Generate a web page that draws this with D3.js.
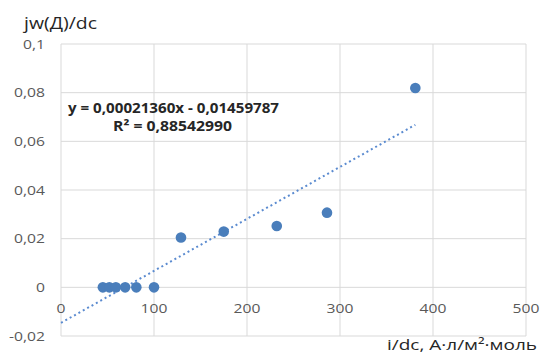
<!DOCTYPE html>
<html><head><meta charset="utf-8">
<script src="https://cdn.jsdelivr.net/npm/d3@7"></script>
<style>body{margin:0;background:#fff}svg{display:block}</style>
</head><body>
<script>
const xValues = [45, 52, 59, 69, 81, 100, 129, 175, 232, 286, 381];
const yValues = [0, 0, 0, 0, 0, 0, 0.0205, 0.0229, 0.0252, 0.0307, 0.0819];
const xTicks = [0, 100, 200, 300, 400, 500];
const yTicks = [-0.02, 0, 0.02, 0.04, 0.06, 0.08, 0.1];
const yTickLabels = ["-0,02", "0", "0,02", "0,04", "0,06", "0,08", "0,1"];
const slope = 0.00021360, intercept = -0.01459787;
const eqText = "y = 0,00021360x - 0,01459787";
const r2Text = "R² = 0,88542990";
const yTitle = "jw(Д)/dc";
const xTitle = "i/dc, А·л/м²·моль";

const W = 540, H = 354;
const svg = d3.select("body").append("svg").attr("width", W).attr("height", H);
const x = d3.scaleLinear().domain([0, 500]).range([61, 526]);
const y = d3.scaleLinear().domain([-0.02, 0.1]).range([336, 44]);
const font = "'Open Sans', 'Liberation Sans', sans-serif";
const grid = "#d9d9d9";

function label(g, px, py, str, size, anchor, sx, opts = {}) {
  const t = g.append("text")
    .attr("transform", `translate(${px},${py}) scale(${sx},1)`)
    .attr("text-anchor", anchor).attr("font-family", font).attr("font-size", size)
    .attr("font-weight", opts.weight || "normal")
    .attr("dy", opts.dy || null)
    .attr("fill", opts.fill || "#595959").text(str);
  if (opts.len) t.attr("textLength", opts.len).attr("lengthAdjust", "spacingAndGlyphs");
  return t;
}

// grid
svg.append("g").selectAll("line").data(yTicks).join("line")
  .attr("x1", x(0)).attr("x2", x(500)).attr("y1", d => y(d)).attr("y2", d => y(d))
  .attr("stroke", grid).attr("stroke-width", 1);
svg.append("g").selectAll("line").data(xTicks).join("line")
  .attr("x1", d => x(d)).attr("x2", d => x(d)).attr("y1", y(0.1)).attr("y2", y(-0.02))
  .attr("stroke", grid).attr("stroke-width", 1);

// tick labels
const gy = svg.append("g");
yTicks.forEach((d, i) => label(gy, 45, y(d), yTickLabels[i], 13.5, "end", 1.16, {dy: "0.35em"}));
const gx = svg.append("g");
xTicks.forEach(d => label(gx, x(d), y(0) + 26, String(d), 13.5, "middle", 1.16));

// trendline
const xMax = d3.max(xValues);
svg.append("line")
  .attr("x1", x(0)).attr("y1", y(intercept))
  .attr("x2", x(xMax)).attr("y2", y(slope * xMax + intercept))
  .attr("stroke", "#5b8bd0").attr("stroke-width", 2)
  .attr("stroke-dasharray", "2,3");

// points
svg.append("g").selectAll("circle").data(xValues).join("circle")
  .attr("cx", d => x(d)).attr("cy", (d, i) => y(yValues[i])).attr("r", 5.3)
  .attr("fill", "#4a7ebb");

// equation
const ge = svg.append("g");
label(ge, 68, 112.5, eqText, 13.5, "start", 1, {weight: "bold", fill: "#262626", len: 211});
label(ge, 113, 130.5, r2Text, 13.5, "start", 1, {weight: "bold", fill: "#262626", len: 119});

// axis titles
const gt = svg.append("g");
label(gt, 24, 29, yTitle, 16.5, "start", 1, {fill: "#262626", len: 73});
label(gt, 387, 350, xTitle, 15, "start", 1, {fill: "#262626", len: 150});
</script>
</body></html>
